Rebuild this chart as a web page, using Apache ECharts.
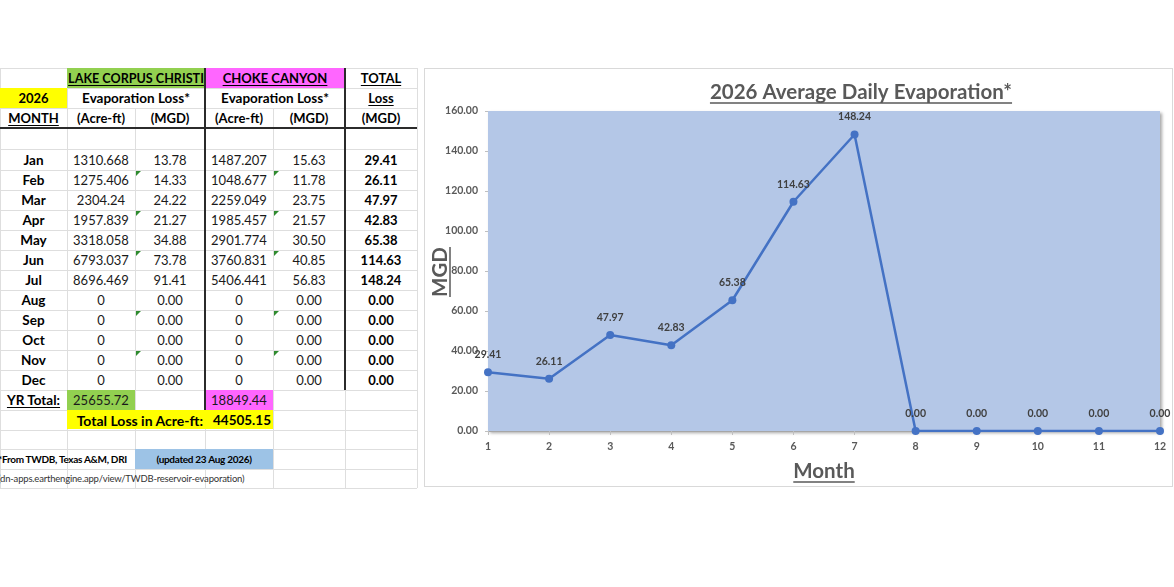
<!DOCTYPE html>
<html><head><meta charset="utf-8">
<script src="https://cdn.jsdelivr.net/npm/echarts@6/dist/echarts.min.js"></script>
<style>
html,body{margin:0;padding:0;background:#fff;width:1174px;height:587px;overflow:hidden;font-family:Lato,'Noto Sans',sans-serif;}
#sheet{position:absolute;left:0;top:0;width:1174px;height:587px;}
.c{position:absolute;display:flex;align-items:center;justify-content:center;white-space:nowrap;font-size:13px;color:#1a1a1a;box-sizing:border-box;}
.b{font-weight:700;color:#000;}
.u{text-decoration:underline;text-underline-offset:2px;}
.s{font-size:10px;letter-spacing:-0.3px;}
.l{justify-content:flex-start;}
.r{justify-content:flex-end;}
.ln{position:absolute;}
.tri{position:absolute;width:0;height:0;border-top:5px solid #2e8b2e;border-right:5px solid transparent;}
#chart{position:absolute;left:424px;top:68px;width:749px;height:419px;box-sizing:border-box;border:1px solid #d9d9d9;background:#fff;}
</style></head><body>
<div id="sheet"></div>
<div id="chart"></div>
<script>
// ---- data ----
const months = ['Jan','Feb','Mar','Apr','May','Jun','Jul','Aug','Sep','Oct','Nov','Dec'];
const monthNums = ['1','2','3','4','5','6','7','8','9','10','11','12'];
const lccAcreFt = [1310.668,1275.406,2304.24,1957.839,3318.058,6793.037,8696.469,0,0,0,0,0];
const lccMgd = [13.78,14.33,24.22,21.27,34.88,73.78,91.41,0,0,0,0,0];
const ccAcreFt = [1487.207,1048.677,2259.049,1985.457,2901.774,3760.831,5406.441,0,0,0,0,0];
const ccMgd = [15.63,11.78,23.75,21.57,30.50,40.85,56.83,0,0,0,0,0];
const totalMgd = [29.41,26.11,47.97,42.83,65.38,114.63,148.24,0,0,0,0,0];
const lccYearTotal = 25655.72;
const ccYearTotal = 18849.44;
const grandTotalAcreFt = 44505.15;
const flaggedRows = [1,3,5,8,10];
const yTicks = {min:0,max:160,interval:20};

// ---- spreadsheet table ----
const sheet = document.getElementById('sheet');
const colX = [0,67,135,205,273,345,417];
const rowY = [68,88,108,128,149,170,190,210,230,250,270,290,310,330,350,370,390,410,430,449,469,488];
function box(x,y,w,h,css){const d=document.createElement('div');d.className='ln';d.style.cssText=`left:${x}px;top:${y}px;width:${w}px;height:${h}px;${css}`;sheet.appendChild(d);return d;}
function cell(c0,c1,r,text,cls,css){
  const d=document.createElement('div');
  d.className='c '+(cls||'');
  const x=colX[c0], w=colX[c1]-colX[c0];
  d.style.cssText=`left:${x}px;top:${rowY[r]}px;width:${w}px;height:${rowY[r+1]-rowY[r]}px;${css||''}`;
  d.textContent=text;
  sheet.appendChild(d);return d;
}
// light gridlines
const gl='#dedede';
for(let r=0;r<rowY.length;r++) box(0,rowY[r],417,1,'background:'+gl);
for(let c=0;c<colX.length;c++){
  const x=colX[c];
  if(x===135||x===273){ box(x,rowY[2],1,488-rowY[2],'background:'+gl); }
  else box(x,68,1,420,'background:'+gl);
}
// fills
box(67,68,138,20,'background:#92d050');
box(205,68,140,20,'background:#ff66ff');
box(0,88,67,20,'background:#ffff00');
box(67,390,68,20,'background:#92d050');
box(205,390,68,20,'background:#ff66ff');
box(67,410,206,19,'background:#ffff00');
box(135,449,138,20,'background:#9dc3e6');
// header text
cell(1,3,0,'LAKE CORPUS CHRISTI','b u','font-size:12.6px;');
cell(3,5,0,'CHOKE CANYON','b u');
cell(5,6,0,'TOTAL','b u');
cell(0,1,1,'2026','b');
cell(1,3,1,'Evaporation Loss*','b','font-size:13.5px;');
cell(3,5,1,'Evaporation Loss*','b','font-size:13.5px;');
cell(5,6,1,'Loss','b u');
cell(0,1,2,'MONTH','b u');
cell(1,2,2,'(Acre-ft)','b');
cell(2,3,2,'(MGD)','b');
cell(3,4,2,'(Acre-ft)','b');
cell(4,5,2,'(MGD)','b');
cell(5,6,2,'(MGD)','b');
// data rows
months.forEach((m,i)=>{
  const r=4+i;
  cell(0,1,r,m,'b','font-size:13.5px;');
  cell(1,2,r,String(lccAcreFt[i]));
  cell(2,3,r,lccMgd[i].toFixed(2));
  cell(3,4,r,String(ccAcreFt[i]));
  cell(4,5,r,ccMgd[i].toFixed(2));
  cell(5,6,r,totalMgd[i].toFixed(2),'b');
});
flaggedRows.forEach(i=>{
  const y=rowY[4+i]+1;
  const t1=document.createElement('div');t1.className='tri';t1.style.left='136px';t1.style.top=y+'px';sheet.appendChild(t1);
  const t2=document.createElement('div');t2.className='tri';t2.style.left='274px';t2.style.top=y+'px';sheet.appendChild(t2);
});
cell(0,1,16,'YR Total:','b u','font-size:13.5px;');
cell(1,2,16,lccYearTotal.toFixed(2));
cell(3,4,16,ccYearTotal.toFixed(2));
cell(1,3,17,'Total Loss in Acre-ft:','b r',`width:${203-67}px;font-size:14px;`);
cell(3,4,17,grandTotalAcreFt.toFixed(2),'b r','padding-right:2px;font-size:13.5px;');
cell(0,2,19,'*From TWDB, Texas A&M, DRI','b s l','left:-2px;');
cell(2,4,19,'(updated 23 Aug 2026)','b s');
cell(0,4,20,'(dn-apps.earthengine.app/view/TWDB-reservoir-evaporation)','s l','left:-2px;color:#333;font-size:9.5px;letter-spacing:-0.2px;');
// dark borders
box(0,127,417,2,'background:#2b2b2b');
box(204,68,2,342,'background:#2b2b2b');
box(344,68,2,322,'background:#2b2b2b');

// ---- chart ----
const FONT='Lato';
const chart = echarts.init(document.getElementById('chart'));
const cv=document.createElement('canvas').getContext('2d');
function tw(txt,size){cv.font=`bold ${size}px ${FONT}`;return cv.measureText(txt).width;}
const titleText='2026 Average Daily Evaporation*';
const titleSize=20.5, titleX=436, titleY=23;
const monthText='Month', monthX=399, monthY=402;
const mgdText='MGD', mgdX=15, mgdY=203;
const wT=tw(titleText,titleSize), wM=tw(monthText,titleSize), wG=tw(mgdText,titleSize);
const ink='#595959';
chart.setOption({
  animation:false,
  textStyle:{fontFamily:FONT},
  grid:{left:63,right:12,top:42,bottom:55,show:true,backgroundColor:'#b4c7e7',borderWidth:0,
        shadowColor:'rgba(0,0,0,0.35)',shadowBlur:3,shadowOffsetX:2,shadowOffsetY:2},
  xAxis:{type:'category',data:monthNums,boundaryGap:false,
    axisLine:{lineStyle:{color:'#a6a6a6',width:1}},
    axisTick:{show:true,length:4,lineStyle:{color:'#bfbfbf'}},
    axisLabel:{color:ink,fontSize:10.5,fontWeight:'bold',margin:10}},
  yAxis:{type:'value',min:yTicks.min,max:yTicks.max,interval:yTicks.interval,
    axisLine:{show:false},axisTick:{show:true,length:3,lineStyle:{color:'#bfbfbf'}},
    splitLine:{show:false},
    axisLabel:{color:ink,fontSize:10.5,fontWeight:'bold',margin:10,formatter:v=>v.toFixed(2)}},
  series:[{type:'line',data:totalMgd,symbol:'circle',symbolSize:8,
    lineStyle:{color:'#4472c4',width:2.5},itemStyle:{color:'#4472c4'},
    label:{show:true,position:'top',distance:8,color:'#404040',fontSize:10.5,fontWeight:'bold',formatter:p=>p.value.toFixed(2)}}],
  graphic:[
    {type:'text',x:titleX,y:titleY,style:{text:titleText,fontSize:titleSize,fontWeight:'bold',fontFamily:FONT,fill:ink,align:'center',verticalAlign:'middle'}},
    {type:'line',shape:{x1:titleX-wT/2,y1:titleY+11,x2:titleX+wT/2,y2:titleY+11},style:{stroke:ink,lineWidth:1.5}},
    {type:'text',x:monthX,y:monthY,style:{text:monthText,fontSize:titleSize,fontWeight:'bold',fontFamily:FONT,fill:ink,align:'center',verticalAlign:'middle'}},
    {type:'line',shape:{x1:monthX-wM/2,y1:monthY+11,x2:monthX+wM/2,y2:monthY+11},style:{stroke:ink,lineWidth:1.5}},
    {type:'text',x:mgdX,y:mgdY,rotation:Math.PI/2,style:{text:mgdText,fontSize:titleSize,fontWeight:'bold',fontFamily:FONT,fill:ink,align:'center',verticalAlign:'middle'}},
    {type:'line',shape:{x1:mgdX+10,y1:mgdY-wG/2,x2:mgdX+10,y2:mgdY+wG/2},style:{stroke:ink,lineWidth:1.5}}
  ]
});
</script>
</body></html>
